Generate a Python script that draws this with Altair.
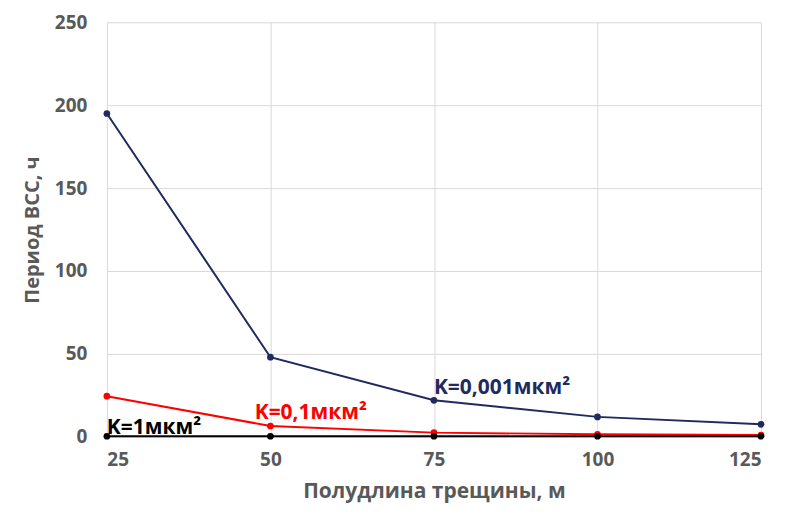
import altair as alt
import pandas as pd

x_vals = [25, 50, 75, 100, 125]
k0001 = [195, 48, 22, 12, 7.5]
k01 = [24.5, 6.5, 2.5, 1.5, 1.0]
k1 = [0.3, 0.3, 0.3, 0.3, 0.3]

series_names = ["K=0,001мкм²", "K=0,1мкм²", "K=1мкм²"]
series_colors = ["#1F2A5E", "#FF0000", "#000000"]

rows = []
for name, vals in zip(series_names, [k0001, k01, k1]):
    for x, y in zip(x_vals, vals):
        rows.append({"x": x, "y": y, "s": name})
df = pd.DataFrame(rows)

label_x = [75, 47.6, 25]
label_y = [29.5, 14.5, 5.5]
labels = pd.DataFrame({"x": label_x, "y": label_y, "s": series_names})

grey = "#595959"
font = "Open Sans"

xs = alt.X("x:Q", scale=alt.Scale(domain=[25, 125], nice=False, zero=False),
           axis=alt.Axis(values=x_vals, title="Полудлина трещины, м", grid=True,
                         domain=False, ticks=False, labelPadding=14, titlePadding=11,
                         titleFontSize=21))
ys = alt.Y("y:Q", scale=alt.Scale(domain=[0, 250], nice=False),
           axis=alt.Axis(values=[0, 50, 100, 150, 200, 250], title="Период ВСС, ч",
                         grid=True, domain=False, ticks=False, labelPadding=20, titlePadding=12,
                         titleFontSize=20))
color = alt.Color("s:N", scale=alt.Scale(domain=series_names, range=series_colors), legend=None)

lines = alt.Chart(df).mark_line(strokeWidth=2).encode(x=xs, y=ys, color=color, detail="s:N")
points = alt.Chart(df).mark_circle(size=45, opacity=1).encode(x="x:Q", y="y:Q", color=color)
text = alt.Chart(labels).mark_text(align="left", baseline="middle", fontSize=21,
                                   fontWeight="bold", font=font).encode(
    x="x:Q", y="y:Q", text="s:N", color=color)

chart = alt.layer(lines, points, text).properties(
    width=655, height=415,
    background="white",
    autosize=alt.AutoSizeParams(type="none"),
    padding={"left": 99, "top": 14, "right": 20, "bottom": 73},
).configure_view(stroke=None).configure_axis(
    labelFont=font, titleFont=font, labelColor=grey, titleColor=grey,
    labelFontSize=19, labelFontWeight="bold", titleFontWeight="bold",
    gridColor="#D9D9D9", gridWidth=1,
)

chart.save("out.html", embed_options={"renderer": "svg", "actions": False})
